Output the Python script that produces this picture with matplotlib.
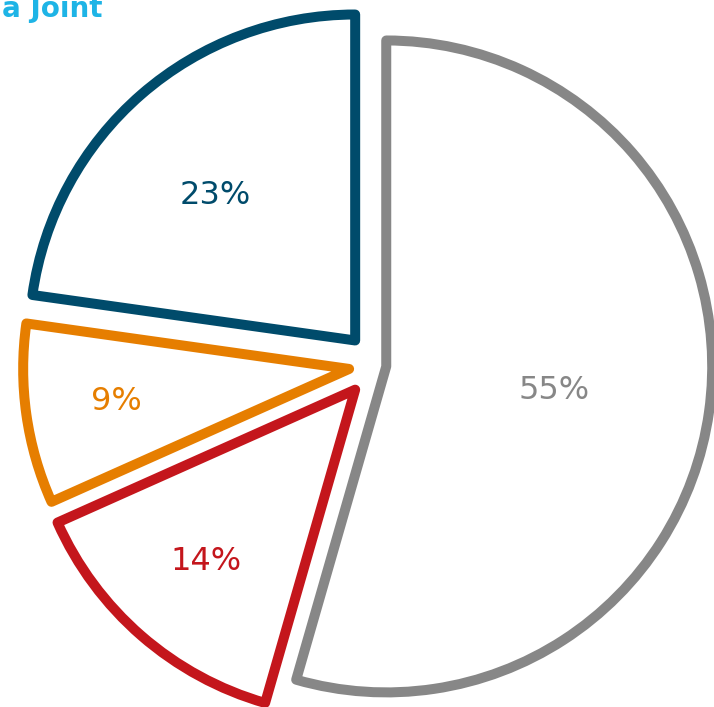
import matplotlib
matplotlib.use('Agg')
import matplotlib.pyplot as plt
import numpy as np

# slice values (clockwise from top), as printed on the chart
labels = ['55%', '14%', '9%', '23%']
values = [55, 14, 9, 23]
colors = ['#878787', '#C4161C', '#E67E00', '#004B6B']
explode = [0.03, 0.1, 0.085, 0.1]
label_dist = [0.52, 0.7, 0.72, 0.62]
label_turn = [0, 0, 0, 3]  # small angle nudge (deg) for label placement

fig = plt.figure(figsize=(7.14, 7.07), dpi=100)
ax = fig.add_axes([0, 0, 1, 1])

wedges, _ = ax.pie(values, explode=explode, startangle=90, counterclock=False,
                   radius=1.0, wedgeprops=dict(facecolor='white', linewidth=7.2))
for w, c in zip(wedges, colors):
    w.set_edgecolor(c)
    w.set_joinstyle('round')

# put the percentages inside each wedge
for w, lab, c, d, t in zip(wedges, labels, colors, label_dist, label_turn):
    mid = np.deg2rad((w.theta1 + w.theta2) / 2 + t)
    cx, cy = w.center
    ax.text(cx + d * np.cos(mid), cy + d * np.sin(mid), lab, color=c,
            fontsize=23, ha='center', va='center')

ax.set_xlim(-1.155, 1.035)
ax.set_ylim(-1.049, 1.120)
ax.set_aspect('equal')
ax.axis('off')

# title is cut off at the top of the image, as in the original
fig.text(0.003, 0.976, 'a Joint', color='#1EB4E6', fontsize=20,
         fontweight='bold', ha='left', va='baseline')

fig.savefig('out.png', dpi=100)
